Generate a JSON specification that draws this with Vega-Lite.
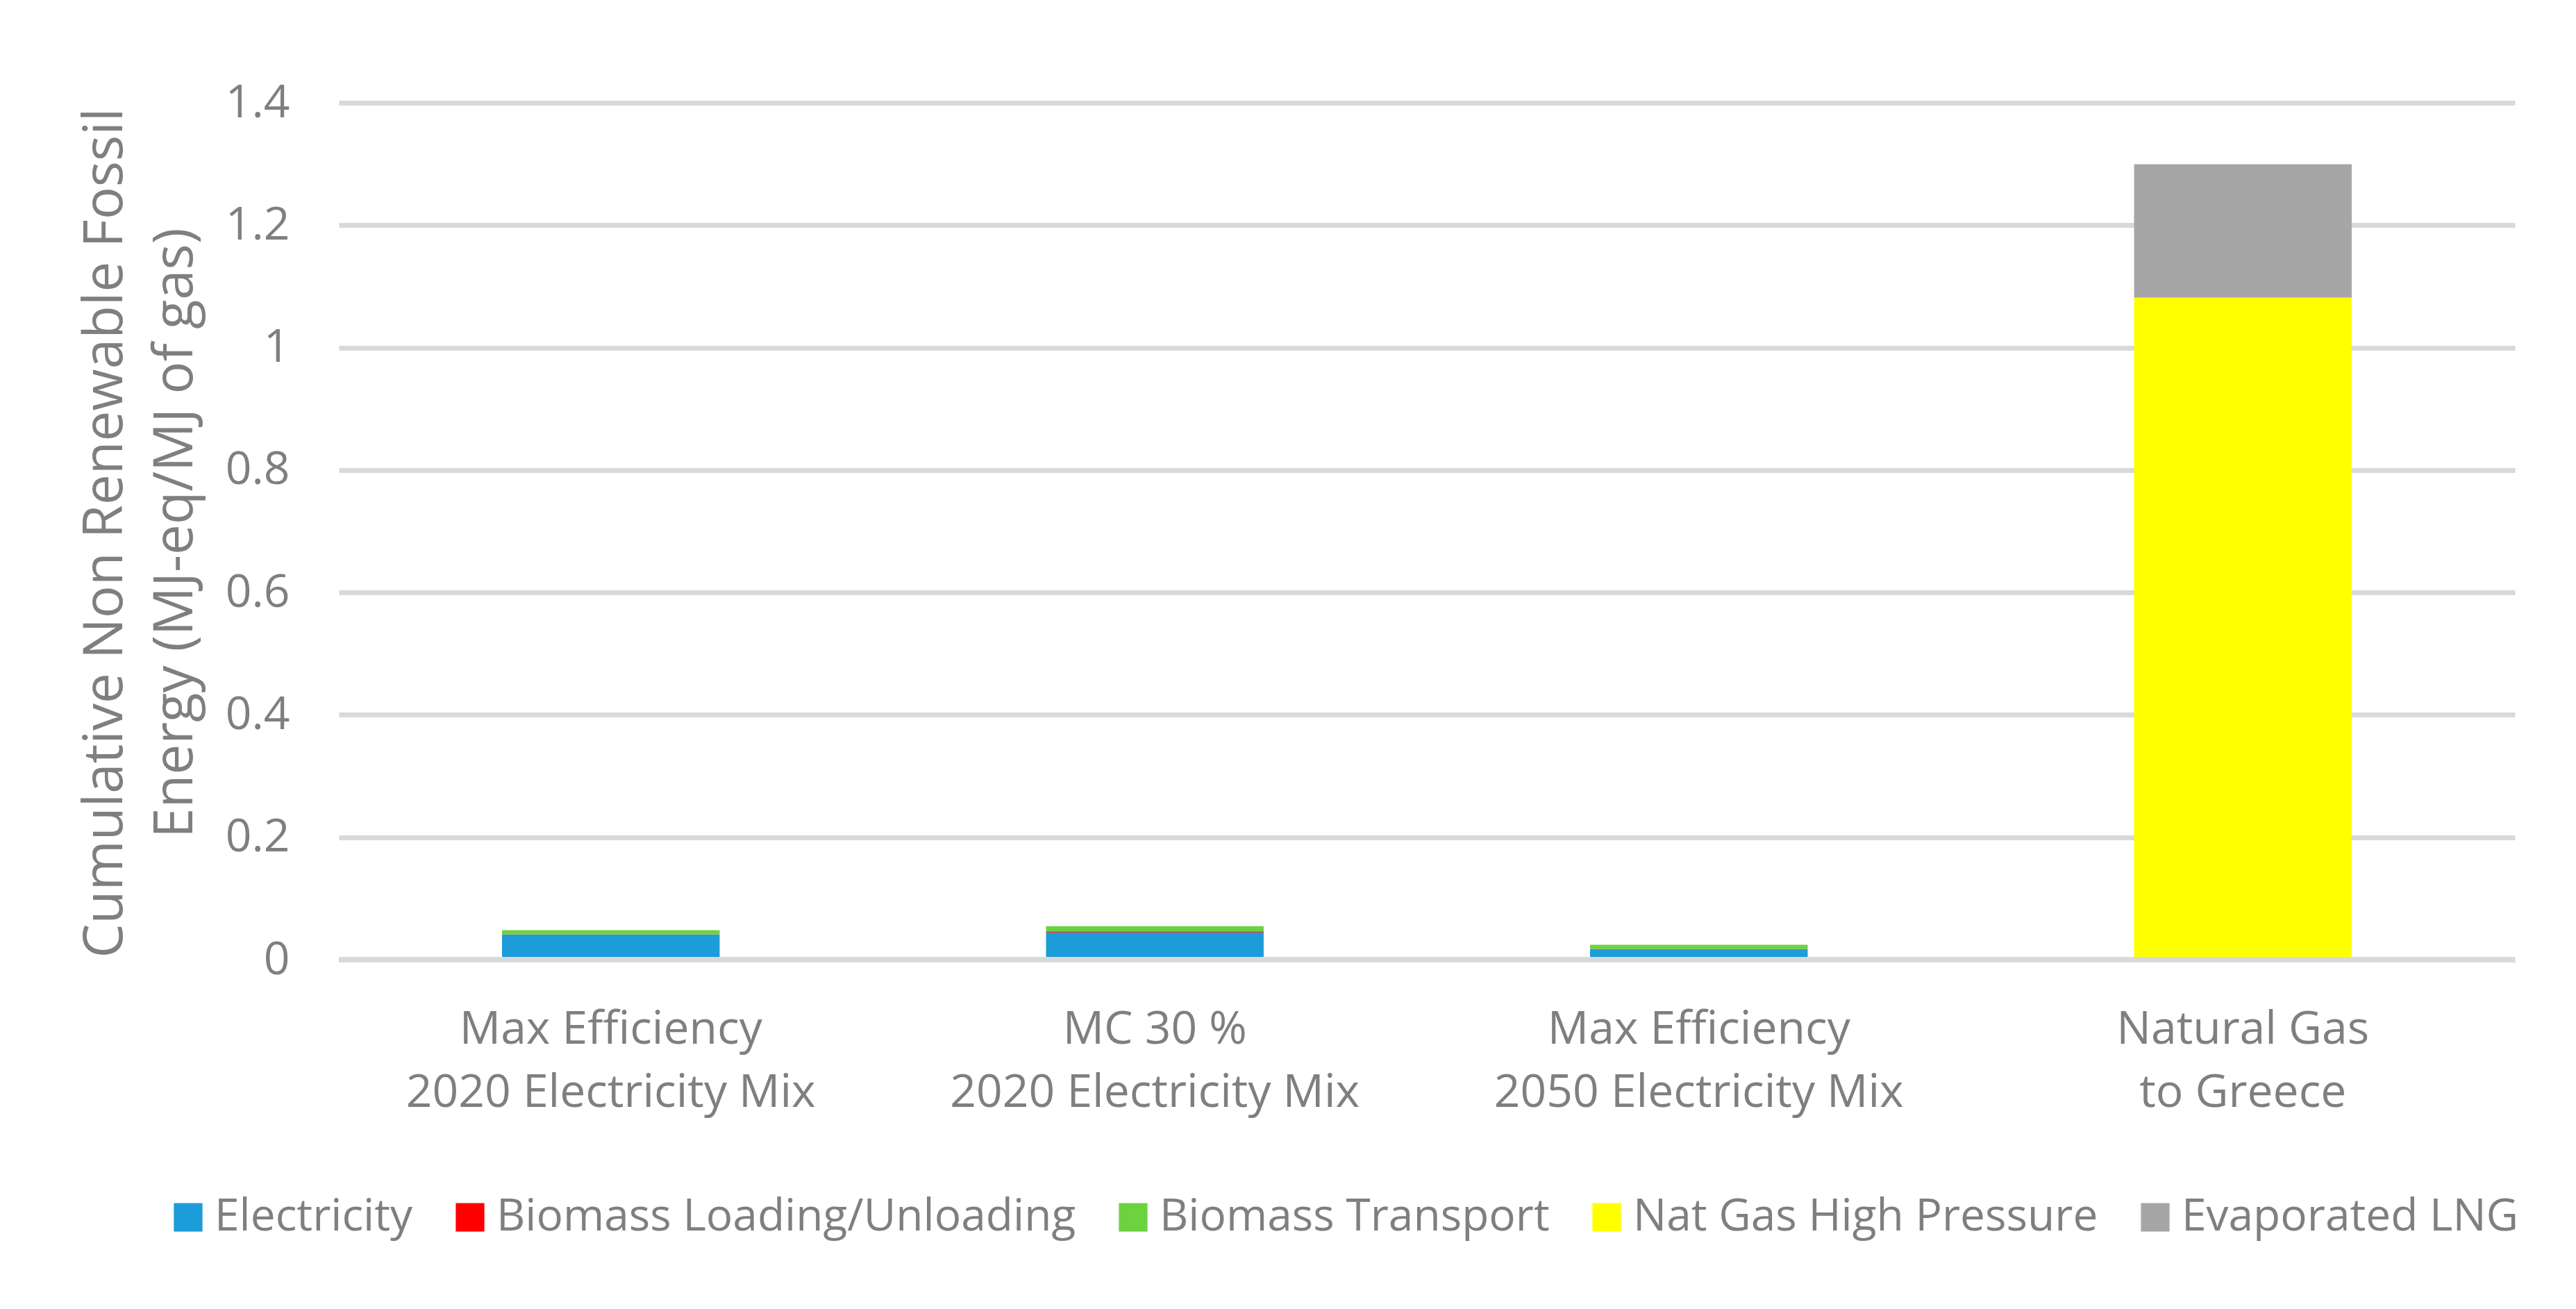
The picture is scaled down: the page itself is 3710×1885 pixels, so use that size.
{
  "$schema": "https://vega.github.io/schema/vega-lite/v6.json",
  "autosize": "none",
  "width": 3134,
  "height": 1234,
  "padding": {"left": 488, "top": 148, "right": 88, "bottom": 503},
  "background": "white",
  "config": {
    "view": {"stroke": null},
    "font": "Open Sans"
  },
  "data": {
    "values": [
      {"scenario": "Max Efficiency|2020 Electricity Mix", "component": "Electricity", "k": 1, "value": 0.0412},
      {"scenario": "Max Efficiency|2020 Electricity Mix", "component": "Biomass Loading/Unloading", "k": 2, "value": 0.0003},
      {"scenario": "Max Efficiency|2020 Electricity Mix", "component": "Biomass Transport", "k": 3, "value": 0.0068},
      {"scenario": "MC 30 %|2020 Electricity Mix", "component": "Electricity", "k": 1, "value": 0.0446},
      {"scenario": "MC 30 %|2020 Electricity Mix", "component": "Biomass Loading/Unloading", "k": 2, "value": 0.0015},
      {"scenario": "MC 30 %|2020 Electricity Mix", "component": "Biomass Transport", "k": 3, "value": 0.0087},
      {"scenario": "Max Efficiency|2050 Electricity Mix", "component": "Electricity", "k": 1, "value": 0.0174},
      {"scenario": "Max Efficiency|2050 Electricity Mix", "component": "Biomass Loading/Unloading", "k": 2, "value": 0.0003},
      {"scenario": "Max Efficiency|2050 Electricity Mix", "component": "Biomass Transport", "k": 3, "value": 0.0068},
      {"scenario": "Natural Gas|to Greece", "component": "Nat Gas High Pressure", "k": 4, "value": 1.0817},
      {"scenario": "Natural Gas|to Greece", "component": "Evaporated LNG", "k": 5, "value": 0.218}
    ]
  },
  "layer": [
    {
      "mark": {"type": "bar"},
      "encoding": {
        "x": {
          "field": "scenario",
          "type": "nominal",
          "sort": null,
          "scale": {"paddingInner": 0.6, "paddingOuter": 0.3},
          "axis": {
            "title": null,
            "labelAngle": 0,
            "labelExpr": "split(datum.label, '|')",
            "labelFontSize": 66,
            "labelColor": "#7F7F7F",
            "labelBaseline": "alphabetic",
            "labelLineHeight": 91,
            "labelPadding": 120,
            "labelLimit": 2000,
            "ticks": false,
            "tickSize": 0,
            "domain": false,
            "grid": false
          }
        },
        "y": {
          "field": "value",
          "type": "quantitative",
          "stack": "zero",
          "scale": {"domain": [0, 1.4], "nice": false},
          "axis": {
            "values": [0, 0.2, 0.4, 0.6, 0.8, 1, 1.2, 1.4],
            "format": ".1~f",
            "labelFontSize": 66,
            "labelColor": "#7F7F7F",
            "labelPadding": 71,
            "ticks": false,
            "tickSize": 0,
            "domain": false,
            "grid": true,
            "gridColor": "#D9D9D9",
            "gridWidth": 7,
            "title": ["Cumulative Non Renewable Fossil", "Energy (MJ-eq/MJ of gas)"],
            "titleFontSize": 78,
            "titleFontWeight": "normal",
            "titleColor": "#7F7F7F",
            "titleX": -313,
            "titleY": 619,
            "titleAngle": -90,
            "titleAlign": "center",
            "titleBaseline": "alphabetic",
            "titleLineHeight": 101
          }
        },
        "color": {
          "field": "component",
          "type": "nominal",
          "scale": {
            "domain": ["Electricity", "Biomass Loading/Unloading", "Biomass Transport", "Nat Gas High Pressure", "Evaporated LNG"],
            "range": ["#1C9CD8", "#FF0000", "#6DD23F", "#FFFF00", "#A6A6A6"]
          },
          "legend": {
            "title": null,
            "orient": "none",
            "direction": "horizontal",
            "columns": 5,
            "legendX": -249,
            "legendY": 1573,
            "symbolType": "square",
            "symbolSize": 1700,
            "symbolStrokeWidth": 0,
            "labelFontSize": 64,
            "labelColor": "#7F7F7F",
            "labelOffset": 6,
            "columnPadding": 50,
            "labelLimit": 2000
          }
        },
        "order": {"field": "k", "type": "quantitative"}
      }
    },
    {
      "mark": {"type": "rule", "color": "#D9D9D9", "strokeWidth": 7},
      "encoding": {"y": {"datum": 0}}
    }
  ]
}
